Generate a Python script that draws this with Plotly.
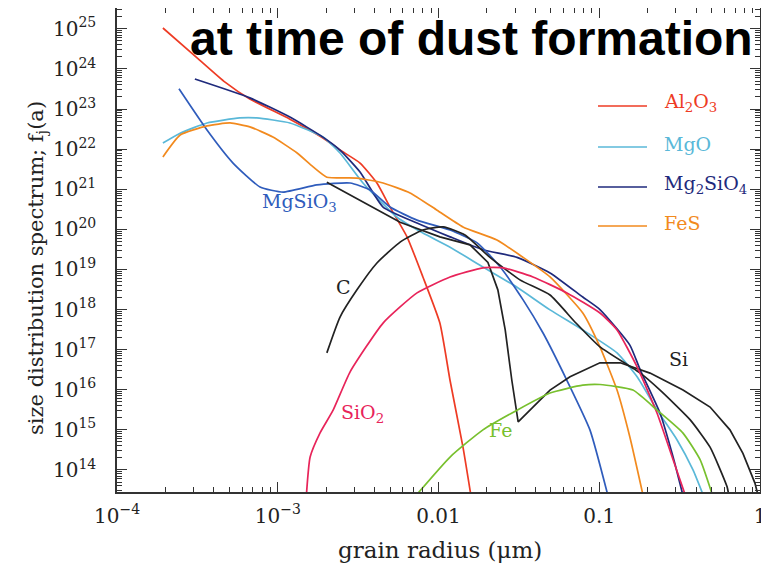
import plotly.graph_objects as go

# ---------------- data (grain radius in micron, size distribution f_j(a)) -------------
al2o3_r = [1.93e-4, 3.15e-4, 4.7e-4, 6.7e-4, 1.19e-3, 1.91e-3, 2.44e-3, 3.25e-3, 4.14e-3,
           4.99e-3, 6.37e-3, 8.0e-3, 1.02e-2, 1.18e-2, 1.42e-2, 1.6e-2]
al2o3_f = [1.05e25, 1.9e24, 4.7e23, 1.78e23, 5.6e22, 1.9e22, 9.5e21, 4.5e21, 1.43e21,
           3.6e20, 6.5e19, 6.5e18, 4.6e17, 1.7e16, 3.7e14, 2e13]

mgo_r = [1.93e-4, 2.47e-4, 3.63e-4, 5.8e-4, 7.4e-4, 1.19e-3, 1.91e-3, 2.44e-3, 3.39e-3,
         5.52e-3, 8.0e-3, 1.18e-2, 1.89e-2, 3.08e-2, 4.94e-2, 7.9e-2, 0.129, 0.172, 0.229,
         0.305, 0.383, 0.455]
mgo_f = [1.42e22, 2.5e22, 4.5e22, 6.0e22, 6.0e22, 4.5e22, 2.0e22, 8.0e21, 1.43e21,
         2.0e20, 8.1e19, 3.6e19, 1.15e19, 3.6e18, 9.8e17, 3.1e17, 8.3e16, 2.1e16, 3.1e15,
         5.6e14, 1.0e14, 1.8e13]

mg2sio4_r = [3.05e-4, 6.7e-4, 1.19e-3, 1.91e-3, 2.44e-3, 3.25e-3, 4.52e-3, 7.35e-3, 1.18e-2,
             1.89e-2, 3.08e-2, 4.94e-2, 7.9e-2, 0.101, 0.155, 0.18, 0.239, 0.288, 0.337]
mg2sio4_f = [5.6e23, 1.9e23, 6.3e22, 2.0e22, 9.5e21, 2.7e21, 3.6e20, 1.44e20, 6.5e19,
             3.1e19, 2.0e19, 8.2e18, 2.05e18, 1.0e18, 1.3e17, 3.1e16, 2.6e15, 2.1e14, 1.8e13]

mgsio3_r = [2.43e-4, 3.63e-4, 5.27e-4, 7.76e-4, 1.08e-3, 1.75e-3, 2.82e-3, 3.75e-3, 4.99e-3,
            7.35e-3, 1.18e-2, 1.74e-2, 2.42e-2, 3.36e-2, 4.47e-2, 6.3e-2, 8.75e-2, 0.115]
mgsio3_f = [3.2e23, 3.0e22, 4.5e21, 1.14e21, 8.5e20, 1.28e21, 1.43e21, 9.6e20, 3.6e20,
            1.7e20, 9.6e19, 4.6e19, 1.15e19, 1.74e18, 2.6e17, 1.7e16, 1.0e15, 1.8e13]

fes_r = [1.93e-4, 2.47e-4, 3.63e-4, 5.05e-4, 6.7e-4, 9.33e-4, 1.32e-3, 1.66e-3, 2.02e-3,
         3.11e-3, 4.52e-3, 6.65e-3, 9.8e-3, 1.42e-2, 2.31e-2, 3.36e-2, 4.94e-2, 7.9e-2,
         0.101, 0.129, 0.155, 0.19]
fes_f = [6.4e21, 2.25e22, 3.8e22, 4.5e22, 3.6e22, 2.0e22, 8.0e21, 3.6e21, 2.0e21,
         1.9e21, 1.43e21, 8.1e20, 3.0e20, 1.15e20, 5.4e19, 2.0e19, 6.5e18, 8.2e17,
         1.17e17, 9.8e15, 6.6e14, 1.8e13]

c_r = [2.02e-3, 2.44e-3, 3.11e-3, 4.14e-3, 5.77e-3, 8.0e-3, 1.07e-2, 1.46e-2, 2.09e-2,
       3.21e-2, 4.94e-2, 7.06e-2, 0.101, 0.18, 0.239, 0.367, 0.489, 0.624, 0.64]
c_f = [8.3e16, 6.5e17, 3.1e18, 1.45e19, 4.8e19, 9.6e19, 1.15e20, 7.2e19, 2.0e19,
       5.5e18, 2.3e18, 4.9e17, 1.17e17, 2.6e16, 9.8e15, 1.8e15, 3.7e14, 3.8e13, 2.3e13]

si_r = [2.02e-3, 3.25e-3, 5.77e-3, 1.02e-2, 1.57e-2, 2.03e-2, 2.34e-2, 2.6e-2, 2.86e-2,
        3.13e-2, 3.98e-2, 4.94e-2, 6.58e-2, 0.101, 0.135, 0.207, 0.332, 0.489, 0.65,
        0.783, 0.93, 0.973]
si_f = [1.5e21, 5.4e20, 1.5e20, 6.5e19, 4.1e19, 1.5e19, 3.1e18, 3.1e17, 1.7e16,
        1.58e15, 4.2e15, 9.8e15, 2.1e16, 4.7e16, 4.7e16, 2.6e16, 9.8e15, 3.7e15, 1.0e15,
        2.6e14, 4.7e13, 2.3e13]

sio2_r = [1.5e-3, 1.59e-3, 1.83e-3, 2.21e-3, 2.82e-3, 4.52e-3, 7.35e-3, 1.18e-2, 1.89e-2,
          2.52e-2, 3.87e-2, 6.3e-2, 0.101, 0.129, 0.172, 0.229, 0.288, 0.351]
sio2_f = [1.8e13, 2.1e14, 8.3e14, 3.1e15, 2.8e16, 4.6e17, 2.6e18, 6.5e18, 1.1e19,
          1.1e19, 6.5e18, 2.6e18, 8.2e17, 3.1e17, 3.7e16, 2.6e15, 1.8e14, 1.8e13]

fe_r = [7.1e-3, 1.18e-2, 1.89e-2, 3.08e-2, 4.94e-2, 7.9e-2, 0.101, 0.162, 0.229, 0.332,
        0.424, 0.517]
fe_f = [2.1e13, 2.1e14, 1.0e15, 3.1e15, 8.3e15, 1.3e16, 1.35e16, 9.8e15, 3.1e15, 8.3e14,
        1.8e14, 1.8e13]

x_tick_vals = [1e-4, 1e-3, 1e-2, 1e-1, 1]
x_tick_text = ["10<sup>\u22124</sup>", "10<sup>\u22123</sup>", "0.01", "0.1", "1"]
y_exponents = list(range(14, 26))
y_tick_vals = [10.0 ** e for e in y_exponents]
y_tick_text = ["10<sup>%d</sup>" % e for e in y_exponents]

# ---------------- styling ----------------
COL = {
    "Al2O3": "#ee3b24", "MgO": "#5ab8d8", "Mg2SiO4": "#1f2a7c", "MgSiO3": "#2f5cbc",
    "FeS": "#f28a1e", "C": "#222222", "Si": "#222222", "SiO2": "#e8245a", "Fe": "#78c02e",
}
series = [
    ("Al2O3", al2o3_r, al2o3_f, "spline"),
    ("MgO", mgo_r, mgo_f, "spline"),
    ("Mg2SiO4", mg2sio4_r, mg2sio4_f, "spline"),
    ("MgSiO3", mgsio3_r, mgsio3_f, "spline"),
    ("FeS", fes_r, fes_f, "spline"),
    ("C", c_r, c_f, "spline"),
    ("Si", si_r, si_f, "linear"),
    ("SiO2", sio2_r, sio2_f, "spline"),
    ("Fe", fe_r, fe_f, "spline"),
]

fig = go.Figure()
for name, xs, ys, shape in series:
    line = dict(color=COL[name], width=1.7, shape=shape)
    if shape == "spline":
        line["smoothing"] = 0.5
    fig.add_trace(go.Scatter(x=xs, y=ys, mode="lines", name=name, line=line,
                             showlegend=False, cliponaxis=True))

SERIF = "DejaVu Serif"
# the page body has an 8px margin: the figure is drawn 8px right / 8px down in the window
OFF = 8
VW, VH = 769, 569
W, H = VW - OFF, VH - OFF
# plot area in window pixels
PL, PR, PT, PB = 117, 760, 8, 492
L, R, T, B = PL - OFF, W - (PR - OFF), PT - OFF, H - (PB - OFF)


def px(xp):
    return (xp - PL) / (PR - PL)


def py(yp):
    return (PB - yp) / (PB - PT)


x_minor = [m * 10.0 ** e for e in range(-4, 0) for m in range(2, 10)]
y_minor = [m * 10.0 ** e for e in range(13, 26) for m in range(2, 10)]

axis_common = dict(
    type="log", showgrid=False, zeroline=False, showline=True, linecolor="#333333",
    linewidth=1.5, mirror="ticks", ticks="inside", tickcolor="#333333", tickwidth=1.2,
    ticklen=10, automargin=False,
    tickfont=dict(family=SERIF, size=20, color="#222222"),
)
fig.update_xaxes(range=[-4, 0], tickvals=x_tick_vals, ticktext=x_tick_text,
                 ticklabelstandoff=5,
                 minor=dict(ticks="inside", ticklen=5, tickvals=x_minor,
                            tickcolor="#333333", tickwidth=1), **axis_common)
fig.update_yaxes(range=[13.45, 25.52], tickvals=y_tick_vals, ticktext=y_tick_text,
                 ticklabelstandoff=15,
                 minor=dict(ticks="inside", ticklen=5, tickvals=y_minor,
                            tickcolor="#333333", tickwidth=1), **axis_common)

ann = []
# axis titles
ann.append(dict(x=px(440), y=py(550), xref="paper", yref="paper",
                text="grain radius (\u03bcm)", showarrow=False, yanchor="middle",
                font=dict(family=SERIF, size=23, color="#222222")))
ann.append(dict(x=px(22), y=py(268), xref="paper", yref="paper", textangle=-90,
                text="size distribution spectrum; f<sub>j</sub>(a)", showarrow=False,
                font=dict(family=SERIF, size=21, color="#222222")))
# title
ann.append(dict(x=px(471), y=py(38), xref="paper", yref="paper", xanchor="center",
                yanchor="middle", text="<b>at time of dust formation</b>", showarrow=False,
                font=dict(family="Liberation Sans", size=48, color="#000000")))
# inline labels
inline = [
    ("MgSiO<sub>3</sub>", 260, 202, "MgSiO3"),
    ("C", 343, 287, "C"),
    ("SiO<sub>2</sub>", 362, 428, "SiO2"),
    ("Fe", 500, 443, "Fe"),
    ("Si", 690, 372, "Si"),
]
for txt, xx, yy, key in inline:
    ann.append(dict(x=px(xx), y=py(yy), xref="paper", yref="paper", text=txt,
                    showarrow=False, font=dict(family=SERIF, size=19, color=COL[key])))

# legend
legend_items = [("Al<sub>2</sub>O<sub>3</sub>", "Al2O3", 106),
                ("MgO", "MgO", 147),
                ("Mg<sub>2</sub>SiO<sub>4</sub>", "Mg2SiO4", 187),
                ("FeS", "FeS", 226)]
shapes = []
for txt, key, yy in legend_items:
    shapes.append(dict(type="line", xref="paper", yref="paper", x0=px(598), x1=px(647),
                       y0=py(yy), y1=py(yy), line=dict(color=COL[key], width=1.7)))
    ann.append(dict(x=px(662), y=py(yy - 3), xref="paper", yref="paper", xanchor="left",
                    yanchor="middle", text=txt, showarrow=False,
                    font=dict(family=SERIF, size=19, color=COL[key])))

fig.update_layout(
    width=W, height=H, margin=dict(l=L, r=R, t=T, b=B, autoexpand=False),
    paper_bgcolor="white", plot_bgcolor="white",
    annotations=ann, shapes=shapes, showlegend=False,
)

fig.write_html("out.html")
